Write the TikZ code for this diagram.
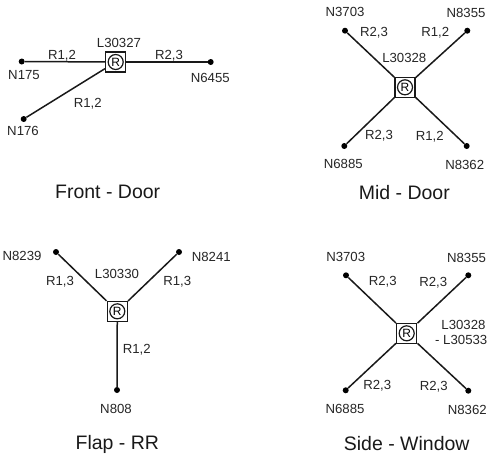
\documentclass[tikz,border=0pt]{standalone}
\usepackage{fontspec}
\setmainfont{Liberation Sans}
\begin{document}
\begin{tikzpicture}[x=1pt,y=-1pt,
  lbl/.style={font=\fontsize{13.2}{15}\selectfont,inner sep=0pt,text height=9.4pt,text depth=0pt,text=black!85},
  ttl/.style={font=\fontsize{19.5}{22}\selectfont,inner sep=0pt,text height=14pt,text depth=0pt,text=black!90},
  hubsq/.style={draw=black!90,line width=1.5pt,minimum size=20pt,inner sep=0pt,fill=white},
  hubci/.style={draw=black!90,circle,line width=1.2pt,minimum size=15pt,inner sep=0pt,font=\fontsize{12}{14}\selectfont},
  dot/.style={circle,fill=black,minimum size=6pt,inner sep=0pt},
  link/.style={line width=1.5pt,black!90}]
\useasboundingbox (0,0) rectangle (488,456);
% Front - Door
\node[hubsq] (a) at (115.7,62) {};
\node[hubci] (ar) at (a) {R};
\node[dot] (a1) at (21.7,61.5) {};
\node[dot] (a2) at (210.7,62) {};
\node[dot] (a3) at (23.7,119) {};
\draw[link] (a1) -- (a);
\draw[link] (a) -- (a2);
\draw[link] (a3) -- (a);
\node[lbl] (la0) at (119,42.3) {L30327};
\node[lbl] (la1) at (62,54.3) {R1,2};
\node[lbl] (la2) at (169,54.3) {R2,3};
\node[lbl] (la3) at (87.7,103) {R1,2};
\node[lbl] (la4) at (24,75) {N175};
\node[lbl] (la5) at (210.3,77.7) {N6455};
\node[lbl] (la6) at (23,130.3) {N176};
\node[ttl] (ta) at (107.7,191.7) {Front - Door};
% Mid - Door
\node[hubsq] (b) at (405,87.3) {};
\node[hubci] (br) at (b) {R};
\node[dot] (b1) at (345,30.7) {};
\node[dot] (b2) at (467.3,30.7) {};
\node[dot] (b3) at (344.3,146) {};
\node[dot] (b4) at (466.7,146) {};
\draw[link] (b1) -- (b);
\draw[link] (b2) -- (b);
\draw[link] (b3) -- (b);
\draw[link] (b4) -- (b);
\node[lbl] (lb0) at (404.3,58) {L30328};
\node[lbl] (lb1) at (374,31.3) {R2,3};
\node[lbl] (lb2) at (435.3,32) {R1,2};
\node[lbl] (lb3) at (379,135) {R2,3};
\node[lbl] (lb4) at (429.7,135.3) {R1,2};
\node[lbl] (lb5) at (345,12) {N3703};
\node[lbl] (lb6) at (466,12.3) {N8355};
\node[lbl] (lb7) at (343.3,164) {N6885};
\node[lbl] (lb8) at (464.7,164.7) {N8362};
\node[ttl] (tb) at (404.3,192.7) {Mid - Door};
% Flap - RR
\node[hubsq] (c) at (117.3,311.3) {};
\node[hubci] (cr) at (c) {R};
\node[dot] (c1) at (56,252) {};
\node[dot] (c2) at (179,252) {};
\node[dot] (c3) at (117,390) {};
\draw[link] (c1) -- (c);
\draw[link] (c2) -- (c);
\draw[link] (c3) -- (c);
\node[lbl] (lc0) at (117,273.7) {L30330};
\node[lbl] (lc1) at (60,280.3) {R1,3};
\node[lbl] (lc2) at (177.3,280.3) {R1,3};
\node[lbl] (lc3) at (136.7,348.7) {R1,2};
\node[lbl] (lc4) at (22,256) {N8239};
\node[lbl] (lc5) at (211.3,257) {N8241};
\node[lbl] (lc6) at (116,408.7) {N808};
\node[ttl] (tc) at (117.3,442) {Flap - RR};
% Side - Window
\node[hubsq] (d) at (406.7,333.3) {};
\node[hubci] (dr) at (d) {R};
\node[dot] (d1) at (346,275.3) {};
\node[dot] (d2) at (468.3,275.3) {};
\node[dot] (d3) at (345.7,390.3) {};
\node[dot] (d4) at (468.3,390.7) {};
\draw[link] (d1) -- (d);
\draw[link] (d2) -- (d);
\draw[link] (d3) -- (d);
\draw[link] (d4) -- (d);
\node[lbl] (ld0) at (463.5,324.3) {L30328};
\node[lbl,anchor=east] (ld1) at (487.5,339.3) {- L30533};
\node[lbl] (ld2) at (382.7,281) {R2,3};
\node[lbl] (ld3) at (433.3,281.3) {R2,3};
\node[lbl] (ld4) at (377.3,384.7) {R2,3};
\node[lbl] (ld5) at (433.7,385.3) {R2,3};
\node[lbl] (ld6) at (345.7,257) {N3703};
\node[lbl] (ld7) at (466.5,257.3) {N8355};
\node[lbl] (ld8) at (345,409) {N6885};
\node[lbl] (ld9) at (467.3,409.3) {N8362};
\node[ttl] (td) at (406.7,443) {Side - Window};
\end{tikzpicture}
\end{document}
